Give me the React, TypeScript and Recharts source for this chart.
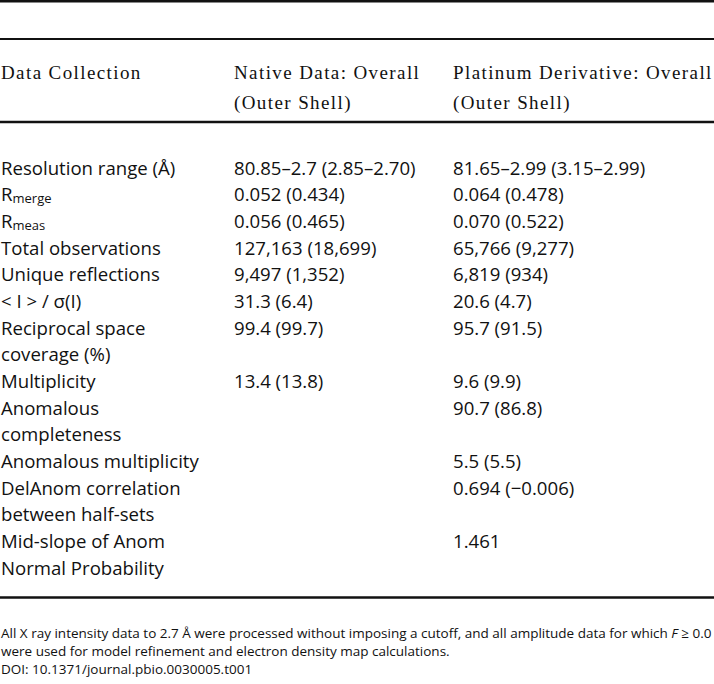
import React from 'react';
import { ScatterChart, Scatter, XAxis, YAxis, ReferenceLine } from 'recharts';

const W = 714;
const H = 684;

// table content
const headerCols = [
  ['Data Collection'],
  ['Native Data: Overall', '(Outer Shell)'],
  ['Platinum Derivative: Overall', '(Outer Shell)'],
];

const statNames = [
  ['Resolution range (Å)'],
  ['R_{merge}'],
  ['R_{meas}'],
  ['Total observations'],
  ['Unique reflections'],
  ['< I > / σ(I)'],
  ['Reciprocal space', 'coverage (%)'],
  ['Multiplicity'],
  ['Anomalous', 'completeness'],
  ['Anomalous multiplicity'],
  ['DelAnom correlation', 'between half-sets'],
  ['Mid-slope of Anom', 'Normal Probability'],
];

const nativeValues = [
  '80.85–2.7 (2.85–2.70)', '0.052 (0.434)', '0.056 (0.465)', '127,163 (18,699)',
  '9,497 (1,352)', '31.3 (6.4)', '99.4 (99.7)', '13.4 (13.8)', '', '', '', '',
];

const platinumValues = [
  '81.65–2.99 (3.15–2.99)', '0.064 (0.478)', '0.070 (0.522)', '65,766 (9,277)',
  '6,819 (934)', '20.6 (4.7)', '95.7 (91.5)', '9.6 (9.9)', '90.7 (86.8)',
  '5.5 (5.5)', '0.694 (−0.006)', '1.461',
];

const footnote = [
  'All X ray intensity data to 2.7 Å were processed without imposing a cutoff, and all amplitude data for which *F* ≥ 0.0',
  'were used for model refinement and electron density map calculations.',
  'DOI: 10.1371/journal.pbio.0030005.t001',
];

// layout, px
const COL_X = [1, 234, 453];
const HEAD_Y = 71.7;
const HEAD_STEP = 30;
const BODY_Y = 166.7;
const BODY_STEP = 26.67;
const FOOT_Y = 632.7;
const FOOT_STEP = 18.2;
const RULES = [
  { y: 1.2, w: 2.4 },
  { y: 39, w: 2 },
  { y: 122, w: 2.4 },
  { y: 597.5, w: 2.6 },
];

type Cell = { x: number; y: number; text: string };

const headPts: Cell[] = headerCols.flatMap((lines, c) =>
  lines.map((t, i) => ({ x: COL_X[c], y: HEAD_Y + i * HEAD_STEP, text: t }))
);

const bodyPts: Cell[] = [];
let line = 0;
statNames.forEach((lines, r) => {
  lines.forEach((t, i) => bodyPts.push({ x: COL_X[0], y: BODY_Y + (line + i) * BODY_STEP, text: t }));
  [nativeValues[r], platinumValues[r]].forEach((v, c) => {
    if (v) bodyPts.push({ x: COL_X[c + 1], y: BODY_Y + line * BODY_STEP, text: v });
  });
  line += lines.length;
});

const footPts: Cell[] = footnote.map((t, i) => ({ x: COL_X[0], y: FOOT_Y + i * FOOT_STEP, text: t }));

// tiny markup: _{sub} and *italic*
function rich(text: string, subSize: number) {
  const parts = text.split(/(_\{[^}]*\}|\*[^*]+\*)/).filter(Boolean);
  let shifted = false;
  return parts.map((p, i) => {
    if (p.startsWith('_{')) {
      shifted = true;
      return <tspan key={i} fontSize={subSize} dy={5}>{p.slice(2, -1)}</tspan>;
    }
    const dy = shifted ? -5 : undefined;
    shifted = false;
    if (p.startsWith('*')) return <tspan key={i} dy={dy} fontStyle="italic">{p.slice(1, -1)}</tspan>;
    return <tspan key={i} dy={dy}>{p}</tspan>;
  });
}

const textShape = (font: string, size: number, spacing = 0, subSize = 13) => (props: any) => {
  const { cx, cy, payload } = props;
  return (
    <text x={cx} y={cy} dominantBaseline="central" fontFamily={font} fontSize={size}
      letterSpacing={spacing} fill="#111">
      {rich(payload.text, subSize)}
    </text>
  );
};

export default function App() {
  return (
    <div style={{ position: 'absolute', left: 0, top: 0, width: W, height: H, background: '#fff' }}>
      <ScatterChart width={W} height={H} margin={{ top: 0, right: 0, bottom: 0, left: 0 }}>
        <XAxis type="number" dataKey="x" domain={[0, W]} hide />
        <YAxis type="number" dataKey="y" domain={[0, H]} reversed hide />
        {RULES.map((r) => (
          <ReferenceLine key={r.y} y={r.y} stroke="#111" strokeWidth={r.w} />
        ))}
        <Scatter data={headPts} isAnimationActive={false} shape={textShape('"Liberation Serif", serif', 19, 1.4)} />
        <Scatter data={bodyPts} isAnimationActive={false} shape={textShape('"Open Sans", sans-serif', 18.6)} />
        <Scatter data={footPts} isAnimationActive={false} shape={textShape('"Open Sans", sans-serif', 13.5)} />
      </ScatterChart>
    </div>
  );
}
